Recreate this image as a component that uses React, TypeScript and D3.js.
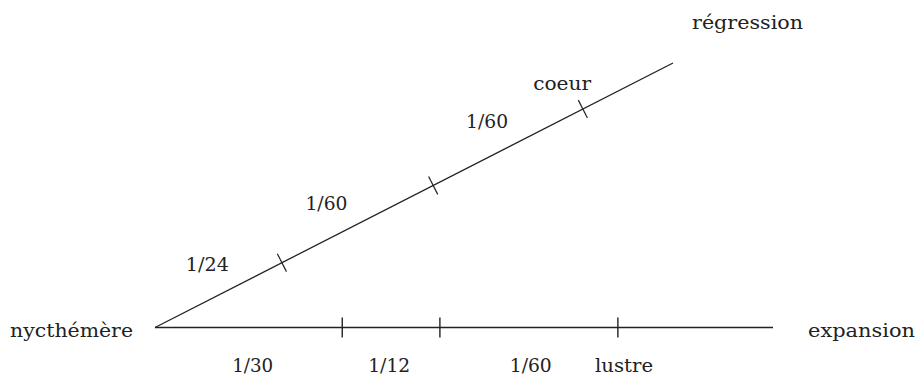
import React from "react";
import * as d3 from "d3";

// Base (horizontal) axis: tick positions as fractions of its length
const baseTicks = [0.303, 0.461, 0.749];
const baseLabels = ["1/30", "1/12", "1/60", "lustre"];
const baseLabelAt = [0.158, 0.379, 0.608, 0.759];

// Diagonal axis: tick positions as fractions of its length
const diagTicks = [0.245, 0.537, 0.826];
const diagLabels = ["1/24", "1/60", "1/60", "coeur"];
const diagLabelAt = [0.13, 0.36, 0.67, 0.815];

const endLabels = ["nycthémère", "expansion", "régression"];

const W = 918;
const H = 378;
const FONT = "'DejaVu Serif', 'Liberation Serif', serif";
const INK = "#222";

export default function App() {
  const x0 = 155, y0 = 327.5;
  const xEnd = 773;
  const dxEnd = 673, dyEnd = 63;

  const bx = d3.scaleLinear().domain([0, 1]).range([x0, xEnd]);
  const gx = d3.scaleLinear().domain([0, 1]).range([x0, dxEnd]);
  const gy = d3.scaleLinear().domain([0, 1]).range([y0, dyEnd]);

  const len = Math.hypot(dxEnd - x0, dyEnd - y0);
  const ux = (dxEnd - x0) / len, uy = (dyEnd - y0) / len;
  // normal pointing up-left
  const nx = uy, ny = -ux;

  const line = d3.line<[number, number]>();
  const tickHalf = 10;
  const perp = 33;
  const textW: Record<string, number> = {
    "nycthémère": 123, "expansion": 107, "régression": 111,
    "coeur": 58, "lustre": 58, "1/30": 41, "1/12": 42, "1/60": 42, "1/24": 43,
  };

  const txt = (s: string, cx: number, by: number, key: string) => (
    <text key={key} x={cx} y={by} textAnchor="middle" fontFamily={FONT} fontSize={19}
      fill={INK} textLength={textW[s]} lengthAdjust="spacingAndGlyphs">{s}</text>
  );

  return (
    <svg width={W} height={H} style={{ position: "fixed", left: 0, top: 0, background: "#fff" }}>
      <path d={line([[bx(0), y0], [bx(1), y0]]) || ""} stroke={INK} strokeWidth={1.6} fill="none" />
      <path d={line([[gx(0), gy(0)], [gx(1), gy(1)]]) || ""} stroke={INK} strokeWidth={1.3} fill="none" />
      {baseTicks.map((t, i) => (
        <path key={"bt" + i} d={line([[bx(t), y0 - tickHalf], [bx(t), y0 + tickHalf]]) || ""}
          stroke={INK} strokeWidth={1.4} />
      ))}
      {diagTicks.map((t, i) => (
        <path key={"dt" + i}
          d={line([[gx(t) + nx * tickHalf, gy(t) + ny * tickHalf], [gx(t) - nx * tickHalf, gy(t) - ny * tickHalf]]) || ""}
          stroke={INK} strokeWidth={1.2} />
      ))}
      {baseLabels.map((s, i) => txt(s, bx(baseLabelAt[i]), y0 + 44.5, "bl" + i))}
      {diagLabels.map((s, i) => txt(s, gx(diagLabelAt[i]) + nx * perp, gy(diagLabelAt[i]) + ny * perp + 7, "dl" + i))}
      {txt(endLabels[0], bx(0) - 83.5, y0 + 9.5, "e0")}
      {txt(endLabels[1], bx(1) + 88.5, y0 + 9.5, "e1")}
      {txt(endLabels[2], gx(1) + 74.5, gy(1) - 34, "e2")}
    </svg>
  );
}
